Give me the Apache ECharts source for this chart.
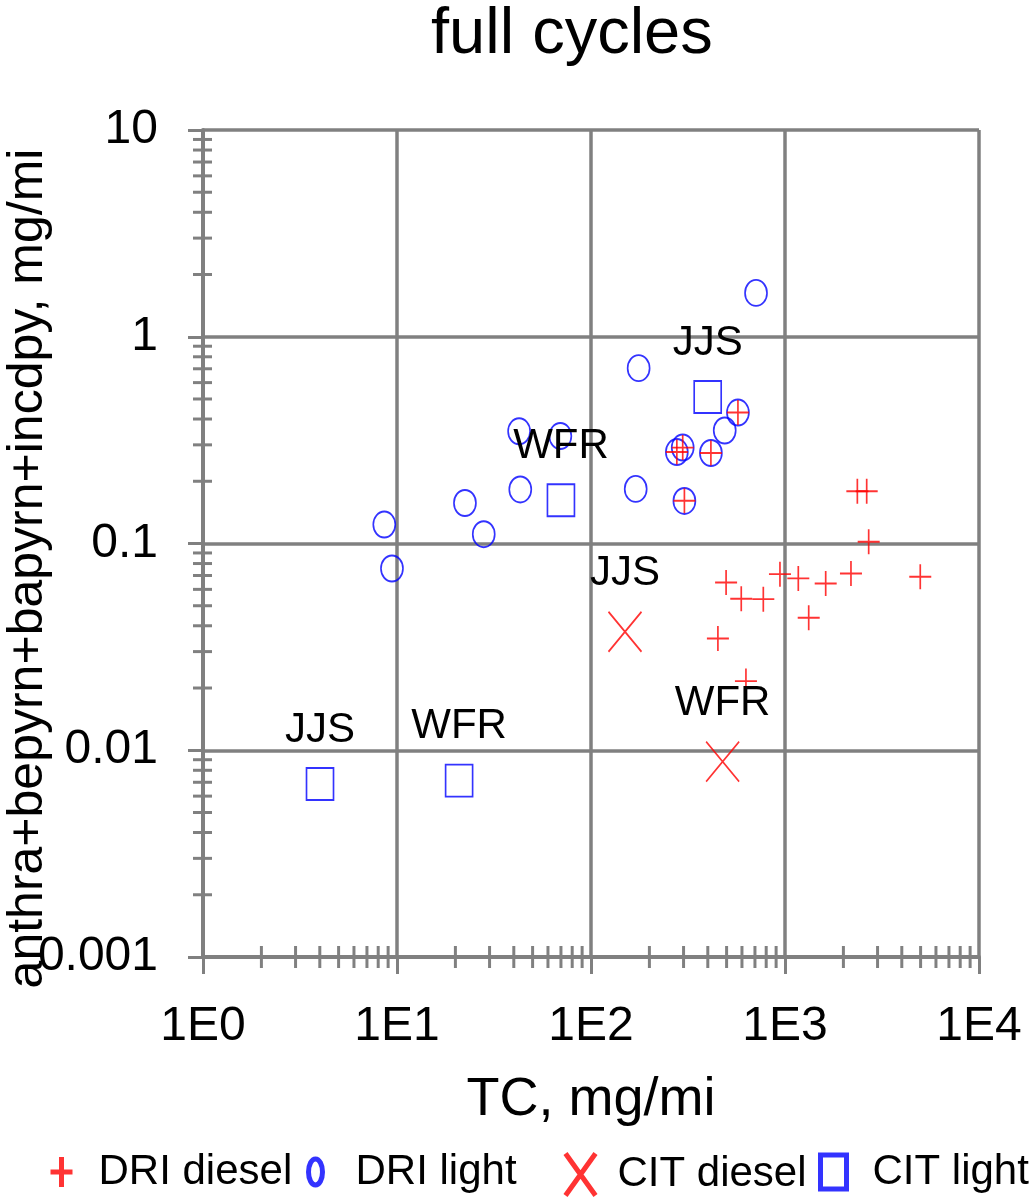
<!DOCTYPE html>
<html>
<head>
<meta charset="utf-8">
<script src="https://cdn.jsdelivr.net/npm/echarts@6/dist/echarts.min.js"></script>
<style>
  html, body { margin: 0; padding: 0; background: #fff; }
  #main { width: 1036px; height: 1198px; }
</style>
</head>
<body>
<div id="main"></div>
<script>
// axis tick labels
const xTickLabels = ['1E0', '1E1', '1E2', '1E3', '1E4']
const yTickLabels = ['0.001', '0.01', '0.1', '1', '10']
const minorSteps = [2, 3, 4, 5, 6, 7, 8, 9]
const xDecades = [1, 10, 100, 1000]
const yDecades = [0.001, 0.01, 0.1, 1]

// DRI diesel (+)
const driDieselTC = [572, 297, 277, 415, 303, 2360, 2637, 2700, 942, 1171, 497, 1621, 2188, 4980, 595, 773, 1325, 451, 629]
const driDieselPAH = [0.43, 0.291, 0.277, 0.274, 0.161, 0.179, 0.179, 0.102, 0.0711, 0.0678, 0.0648, 0.0641, 0.0716, 0.069, 0.054, 0.0538, 0.0437, 0.0347, 0.0216]

// DRI light (o)
const driLightTC = [709, 176, 572, 489, 297, 277, 415, 42.6, 69.5, 43.2, 170, 303, 22.4, 28, 8.6, 9.42]
const driLightPAH = [1.63, 0.705, 0.43, 0.352, 0.291, 0.277, 0.274, 0.349, 0.331, 0.1825, 0.1837, 0.1607, 0.157, 0.1109, 0.1235, 0.0757]

// CIT diesel (x)
const citDieselTC = [149.7, 477]
const citDieselPAH = [0.0374, 0.00881]
const citDieselNames = ['JJS', 'WFR']

// CIT light (square)
const citLightTC = [399.5, 70, 4.01, 20.9]
const citLightPAH = [0.511, 0.1618, 0.00686, 0.00713]
const citLightNames = ['JJS', 'WFR', 'JJS', 'WFR']

const FONT = '"Liberation Sans", Arial, Helvetica, sans-serif'
const GRAY = '#808080'
const RED = '#ff0000'
const BLUE = '#0000ff'

const plusPath = 'path://M5,0 L5,10 M0,5 L10,5'
const crossPath = 'path://M0,0 L10,10 M10,0 L0,10'
const ellipsePath = 'path://M5,0 C7.76,0 10,2.24 10,5 C10,7.76 7.76,10 5,10 C2.24,10 0,7.76 0,5 C0,2.24 2.24,0 5,0 Z'

const xMin = 1
const xMax = 10000
const yMin = 0.001
const yMax = 10

function pairs(xs, ys) {
  return xs.map((x, i) => [x, ys[i]])
}

const xMinor = []
xDecades.forEach(d => minorSteps.forEach(s => xMinor.push(d * s)))
const yMinor = []
yDecades.forEach(d => minorSteps.forEach(s => yMinor.push(d * s)))

const chart = echarts.init(document.getElementById('main'), null, { renderer: 'canvas' })

const iconStyle = { borderWidth: 5 }

const legendBase = {
  orient: 'horizontal',
  top: 1146,
  selectedMode: false,
  symbolKeepAspect: true,
  itemStyle: iconStyle,
  textStyle: { fontSize: 42, color: '#000', fontFamily: FONT }
}

const dataLabel = names => ({
  show: true,
  position: 'top',
  distance: 16,
  fontSize: 42,
  color: '#000000',
  opacity: 1,
  textBorderWidth: 0,
  fontFamily: FONT,
  formatter: p => names[p.dataIndex]
})

const option = {
  backgroundColor: '#fff',
  animation: false,
  title: {
    text: 'full cycles',
    left: 426,
    top: -2,
    textStyle: { fontSize: 65, fontWeight: 'normal', color: '#000', fontFamily: FONT }
  },
  grid: {
    left: 203,
    right: 57,
    top: 130,
    bottom: 241,
    containLabel: false,
    outerBoundsMode: 'none'
  },
  legend: [
    Object.assign({}, legendBase, {
      left: 43, itemWidth: 64, itemHeight: 30,
      data: [{ name: 'DRI diesel', icon: 'path://M11,0 L11,30 M0,15 L22,15', itemStyle: iconStyle }]
    }),
    Object.assign({}, legendBase, {
      left: 301, itemWidth: 70, itemHeight: 26,
      data: [{ name: 'DRI light', icon: 'path://M7,0 C10.87,0 14,5.82 14,13 C14,20.18 10.87,26 7,26 C3.13,26 0,20.18 0,13 C0,5.82 3.13,0 7,0 Z', itemStyle: iconStyle }]
    }),
    Object.assign({}, legendBase, {
      left: 558, itemWidth: 64, itemHeight: 42,
      data: [{ name: 'CIT diesel', icon: 'path://M0,0 L30,42 M30,0 L0,42', itemStyle: iconStyle }]
    }),
    Object.assign({}, legendBase, {
      left: 813, itemWidth: 68, itemHeight: 34,
      data: [{ name: 'CIT light', icon: 'path://M0,0 L26,0 L26,34 L0,34 Z', itemStyle: iconStyle }]
    })
  ],
  xAxis: {
    type: 'log',
    logBase: 10,
    min: xMin,
    max: xMax,
    name: 'TC, mg/mi',
    nameLocation: 'middle',
    nameGap: 116,
    nameMoveOverlap: false,
    nameTextStyle: { fontSize: 54, color: '#000', fontFamily: FONT },
    axisLine: { show: true, onZero: false, lineStyle: { color: GRAY, width: 4 } },
    axisTick: { show: true, length: 17, lineStyle: { color: GRAY, width: 3 } },
    axisLabel: {
      margin: 46,
      fontSize: 48,
      color: '#000',
      fontFamily: FONT,
      showMinLabel: true,
      showMaxLabel: true,
      formatter: v => xTickLabels[Math.round(Math.log10(v))]
    },
    splitLine: { show: true, lineStyle: { color: GRAY, width: 3.5 } }
  },
  yAxis: {
    type: 'log',
    logBase: 10,
    min: yMin,
    max: yMax,
    name: 'anthra+bepyrn+bapyrn+incdpy, mg/mi',
    nameLocation: 'middle',
    nameGap: 150,
    nameMoveOverlap: false,
    nameTextStyle: { fontSize: 50, color: '#000', fontFamily: FONT, padding: [0, 50, 0, 0] },
    axisLine: { show: true, onZero: false, lineStyle: { color: GRAY, width: 4 } },
    axisTick: { show: true, length: 15, lineStyle: { color: GRAY, width: 3 } },
    axisLabel: {
      margin: 45,
      fontSize: 48,
      color: '#000',
      fontFamily: FONT,
      showMinLabel: true,
      showMaxLabel: true,
      formatter: v => yTickLabels[Math.round(Math.log10(v)) + 3]
    },
    splitLine: { show: true, lineStyle: { color: GRAY, width: 3.5 } }
  },
  series: [
    {
      name: 'DRI light',
      type: 'scatter',
      symbol: ellipsePath,
      symbolSize: [22, 26],
      itemStyle: { color: 'rgba(0,0,0,0)', borderColor: BLUE, borderWidth: 1.8 },
      data: pairs(driLightTC, driLightPAH),
      z: 4
    },
    {
      name: 'DRI diesel',
      type: 'scatter',
      symbol: plusPath,
      symbolSize: [22, 25],
      itemStyle: { color: 'rgba(0,0,0,0)', borderColor: RED, borderWidth: 1.8 },
      data: pairs(driDieselTC, driDieselPAH),
      z: 5
    },
    {
      name: 'CIT diesel',
      type: 'scatter',
      symbol: crossPath,
      symbolSize: [33, 40],
      itemStyle: { color: 'rgba(0,0,0,0)', borderColor: RED, borderWidth: 1.8 },
      label: dataLabel(citDieselNames),
      data: pairs(citDieselTC, citDieselPAH),
      z: 5
    },
    {
      name: 'CIT light',
      type: 'scatter',
      symbol: 'rect',
      symbolSize: [27, 32],
      itemStyle: { color: 'rgba(0,0,0,0)', borderColor: BLUE, borderWidth: 1.8 },
      label: dataLabel(citLightNames),
      data: pairs(citLightTC, citLightPAH),
      z: 5
    },
    {
      // minor ticks on the x axis, crossing the axis line
      type: 'custom',
      silent: true,
      z: 3,
      data: xMinor.map(v => [v, yMin]),
      renderItem: (params, api) => {
        const p = api.coord([api.value(0), api.value(1)])
        return {
          type: 'line',
          shape: { x1: p[0], y1: p[1] - 11, x2: p[0], y2: p[1] + 11 },
          style: { stroke: GRAY, lineWidth: 3 }
        }
      }
    },
    {
      // minor ticks on the y axis, crossing the axis line
      type: 'custom',
      silent: true,
      z: 3,
      data: yMinor.map(v => [xMin, v]),
      renderItem: (params, api) => {
        const p = api.coord([api.value(0), api.value(1)])
        return {
          type: 'line',
          shape: { x1: p[0] - 10, y1: p[1], x2: p[0] + 9, y2: p[1] },
          style: { stroke: GRAY, lineWidth: 3 }
        }
      }
    }
  ]
}

chart.setOption(option)
</script>
</body>
</html>
